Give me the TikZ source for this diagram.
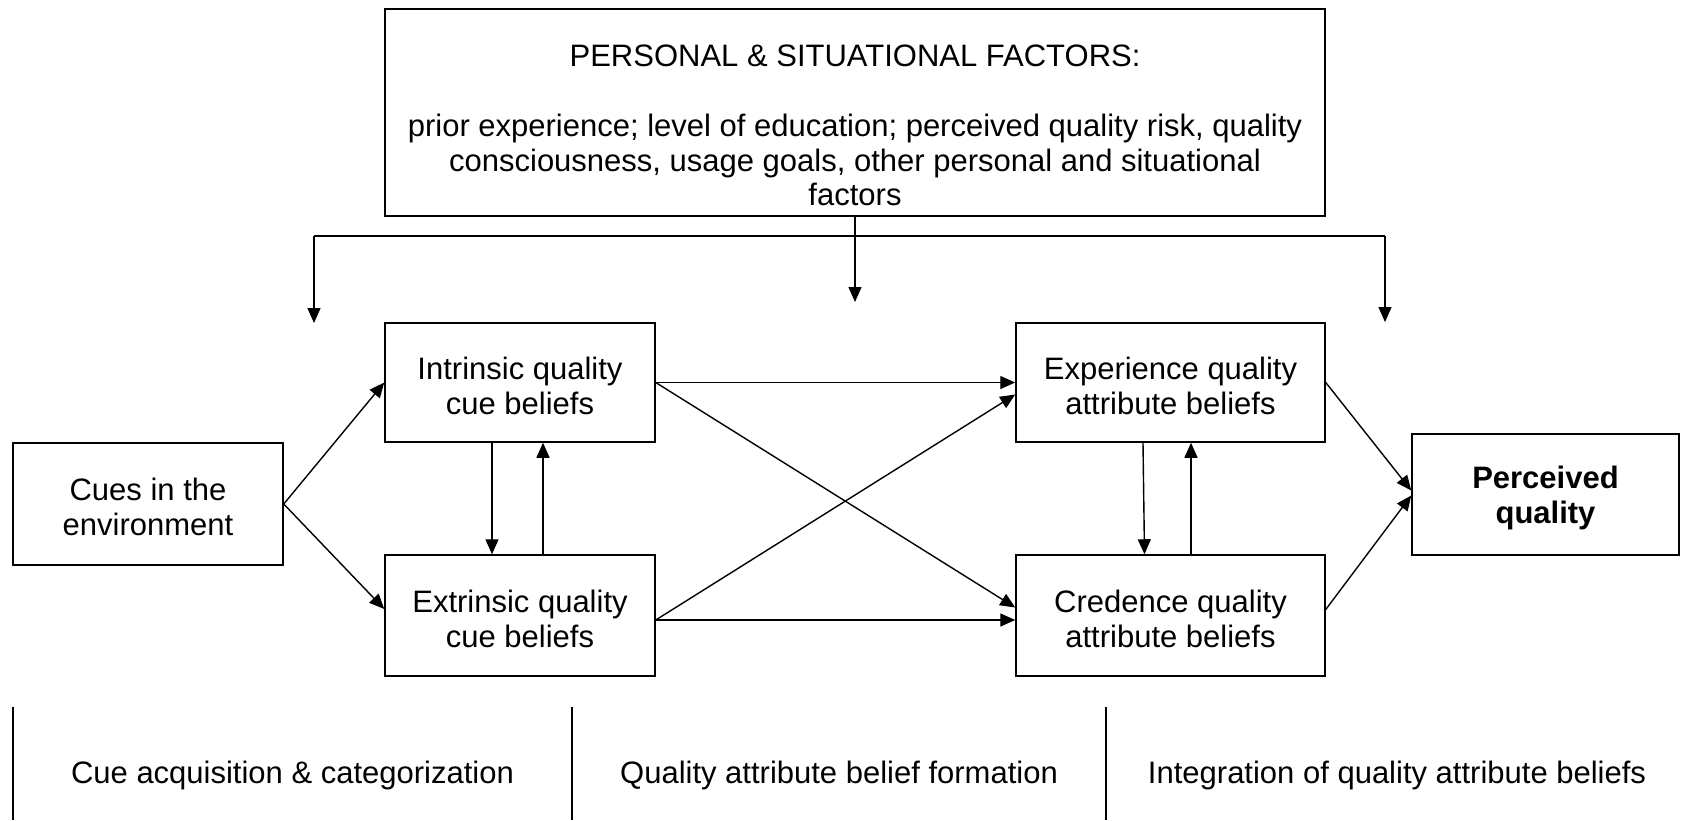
\documentclass[tikz,border=0pt]{standalone}
\usepackage{fontspec}
\setmainfont{Liberation Sans}
\usetikzlibrary{arrows.meta,calc}
\newcommand\dfont{\fontsize{15.5pt}{17.3pt}\selectfont}
\begin{document}
\begin{tikzpicture}[x=0.5pt,y=-0.5pt,
  box/.style={draw,line width=0.75pt,inner sep=0pt},
  txt/.style={inner sep=0pt,align=center,font=\dfont},
  btxt/.style={txt,yshift=-1.6pt},
  arr/.style={line width=0.7pt,-{Triangle[length=7.5pt,width=6.5pt]}},
  plain/.style={line width=0.7pt}]
\useasboundingbox (0,0) rectangle (1688,820);
% boxes
\node[box,minimum width=470pt,minimum height=103.5pt] (psf) at (855,112.5) {};
\node[txt] (psftitle) at (855,56) {PERSONAL \& SITUATIONAL FACTORS:};
\node[txt] (psfbody) at (855,160) {prior experience; level of education; perceived quality risk, quality\\consciousness, usage goals, other personal and situational\\factors};
\node[box,minimum width=135pt,minimum height=61pt] (cues) at (148,504) {};
\node[btxt] (cuest) at (cues) {Cues in the\\environment};
\node[box,minimum width=135pt,minimum height=59.5pt] (intr) at (520,382.5) {};
\node[btxt] (intrt) at (intr) {Intrinsic quality\\cue beliefs};
\node[box,minimum width=135pt,minimum height=60.5pt] (extr) at (520,615.5) {};
\node[btxt] (extrt) at (extr) {Extrinsic quality\\cue beliefs};
\node[box,minimum width=154.5pt,minimum height=59.5pt] (expe) at (1170.5,382.5) {};
\node[btxt] (expet) at (expe) {Experience quality\\attribute beliefs};
\node[box,minimum width=154.5pt,minimum height=60.5pt] (cred) at (1170.5,615.5) {};
\node[btxt] (credt) at (cred) {Credence quality\\attribute beliefs};
\node[box,minimum width=133.5pt,minimum height=60.5pt] (perc) at (1545.5,494.5) {};
\node[btxt,font=\dfont\bfseries] (perct) at (perc) {Perceived\\quality};
% bus
\coordinate (busL) at (314,236);
\coordinate (busR) at (1385,236);
\coordinate (tipL) at (314,323);
\coordinate (tipR) at (1385,322);
\coordinate (tipC) at (855,302);
\draw[plain] (busL) -- (busR);
\draw[arr] (busL) -- (tipL);
\draw[arr] (busR) -- (tipR);
\draw[arr] (psf.south) -- (tipC);
% arrows
\draw[arr] (cues.east) -- (intr.west);
\draw[arr] (cues.east) -- ($(extr.west)+(0,-6.5)$);
\draw[arr] (intr.east) -- (expe.west);
\draw[arr] ($(extr.east)+(0,4.5)$) -- ($(cred.west)+(0,4.5)$);
\draw[arr] (intr.east) -- ($(cred.west)+(0,-8)$);
\draw[arr] ($(extr.east)+(0,4.5)$) -- ($(expe.west)+(0,12)$);
\draw[arr] ($(intr.south)+(-28,0)$) -- ($(extr.north)+(-28,0)$);
\draw[arr] ($(extr.north)+(23,0)$) -- ($(intr.south)+(23,0)$);
\draw[arr] ($(expe.south)+(-27.5,0)$) -- ($(cred.north)+(-26,0)$);
\draw[arr] ($(cred.north)+(20.5,0)$) -- ($(expe.south)+(20.5,0)$);
\draw[arr] (expe.east) -- ($(perc.west)+(0,-4)$);
\draw[arr] ($(cred.east)+(0,-6)$) -- ($(perc.west)+(0,1)$);
% bottom phases
\draw[plain] (13,707) -- (13,820);
\draw[plain] (572,707) -- (572,820);
\draw[plain] (1106,707) -- (1106,820);
\node[txt] (ph1) at (292.5,775) {Cue acquisition \& categorization};
\node[txt] (ph2) at (839,775) {Quality attribute belief formation};
\node[txt] (ph3) at (1397,775) {Integration of quality attribute beliefs};
\end{tikzpicture}
\end{document}
